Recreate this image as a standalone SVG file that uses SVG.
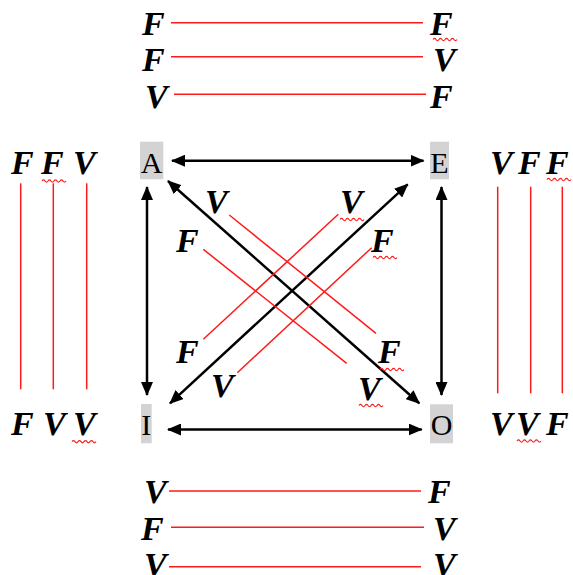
<svg xmlns="http://www.w3.org/2000/svg" xmlns:xlink="http://www.w3.org/1999/xlink" width="573" height="575" viewBox="0 0 573 575">
<style>
.tv{font-family:"Liberation Serif","Times New Roman",serif;font-size:34px;font-weight:bold;font-style:italic;fill:#000}
.nl{font-family:"Liberation Serif","Times New Roman",serif;font-size:30px;fill:#000;text-anchor:middle}
.nb{fill:#d3d3d3}
.rl{stroke:#ff1a1a;stroke-width:1.5;fill:none}
.ar{stroke:#000;stroke-width:2.5;fill:none;marker-start:url(#ah);marker-end:url(#ah)}
.sq{stroke:#ff2020;stroke-width:1.2;fill:none}
</style>
<defs>
<marker id="ah" viewBox="0 0 14 12" refX="13" refY="6" markerWidth="14" markerHeight="12" markerUnits="userSpaceOnUse" orient="auto-start-reverse">
<path d="M0,0 L14,6 L0,12 Z" fill="#000"/>
</marker>
<path id="sq" d="M0,0 q1.5,-2.2 3,0 t3,0 t3,0 t3,0 t3,0 t3,0 t3,0 t3,0" class="sq"/>
</defs>

<g id="connectors">
<line class="ar" x1="172" y1="160.7" x2="423.5" y2="160.7"/>
<line class="ar" x1="147" y1="187" x2="147" y2="395"/>
<line class="ar" x1="441.5" y1="187" x2="441.5" y2="395"/>
<line class="ar" x1="168" y1="429.5" x2="421.7" y2="429.5"/>
<line class="ar" x1="168" y1="181" x2="419.3" y2="403.3"/>
<line class="ar" x1="170" y1="403.3" x2="407.7" y2="184.3"/>
</g>

<g id="node-A"><rect class="nb" x="140" y="141.7" width="23.3" height="37.6"/><text class="nl" x="151.5" y="172.7">A</text></g>
<g id="node-E"><rect class="nb" x="430" y="141.7" width="19" height="37.6"/><text class="nl" x="439.5" y="172.7">E</text></g>
<g id="node-I"><rect class="nb" x="141" y="404" width="10.7" height="39.3"/><text class="nl" x="146.3" y="435">I</text></g>
<g id="node-O"><rect class="nb" x="430" y="404.3" width="23" height="39"/><text class="nl" x="441.5" y="435">O</text></g>

<g id="top-table">
<text class="tv" x="142" y="35">F</text><line class="rl" x1="171" y1="22.7" x2="423" y2="22.7"/><text class="tv" x="430" y="35">F</text><use xlink:href="#sq" href="#sq" transform="translate(433,39.5)"/>
<text class="tv" x="142" y="71">F</text><line class="rl" x1="171" y1="56.7" x2="423" y2="56.7"/><text class="tv" x="433" y="71">V</text>
<text class="tv" x="145" y="108">V</text><line class="rl" x1="174" y1="94.3" x2="426" y2="94.3"/><text class="tv" x="430" y="108">F</text>
</g>

<g id="bottom-table">
<text class="tv" x="144" y="503">V</text><line class="rl" x1="169" y1="491" x2="421" y2="491"/><text class="tv" x="428" y="503">F</text>
<text class="tv" x="141" y="540">F</text><line class="rl" x1="171" y1="527.3" x2="424" y2="527.3"/><text class="tv" x="433" y="540">V</text>
<text class="tv" x="144" y="576">V</text><line class="rl" x1="169" y1="566.7" x2="421" y2="566.7"/><text class="tv" x="433" y="576">V</text>
</g>

<g id="left-table">
<text class="tv" x="11" y="174">F</text><text class="tv" x="41" y="174">F</text><text class="tv" x="73" y="174">V</text>
<use xlink:href="#sq" href="#sq" transform="translate(42,181)"/>
<line class="rl" x1="20.7" y1="183.3" x2="20.7" y2="389.3"/>
<line class="rl" x1="53.3" y1="183.3" x2="53.3" y2="389.3"/>
<line class="rl" x1="86.7" y1="183.3" x2="86.7" y2="389.3"/>
<text class="tv" x="11" y="435">F</text><text class="tv" x="43" y="435">V</text><text class="tv" x="73" y="435">V</text>
<use xlink:href="#sq" href="#sq" transform="translate(72,441.7)"/>
</g>

<g id="right-table">
<text class="tv" x="490" y="174">V</text><text class="tv" x="518" y="174">F</text><text class="tv" x="546" y="174">F</text>
<use xlink:href="#sq" href="#sq" transform="translate(547,179.5)"/>
<line class="rl" x1="497.7" y1="186.7" x2="497.7" y2="393.3"/>
<line class="rl" x1="530.7" y1="186.7" x2="530.7" y2="393.3"/>
<line class="rl" x1="562.3" y1="186.7" x2="562.3" y2="393.3"/>
<text class="tv" x="490" y="435">V</text><text class="tv" x="516" y="435">V</text><text class="tv" x="546" y="435">F</text>
<use xlink:href="#sq" href="#sq" transform="translate(517,441)"/>
</g>

<g id="diagonal-table">
<line class="rl" x1="229.3" y1="215" x2="376" y2="333.3"/>
<line class="rl" x1="203.3" y1="249.3" x2="346.7" y2="363.3"/>
<line class="rl" x1="203.3" y1="339.3" x2="338.3" y2="214.3"/>
<line class="rl" x1="237.3" y1="372.7" x2="371.7" y2="247.7"/>
<text class="tv" x="205" y="213.3">V</text>
<text class="tv" x="176" y="251.7">F</text>
<text class="tv" x="340" y="213">V</text><use xlink:href="#sq" href="#sq" transform="translate(340,219.5)"/>
<text class="tv" x="371" y="251.7">F</text><use xlink:href="#sq" href="#sq" transform="translate(373,257.5)"/>
<text class="tv" x="176" y="363.3">F</text>
<text class="tv" x="211" y="396.7">V</text>
<text class="tv" x="378" y="363.3">F</text><use xlink:href="#sq" href="#sq" transform="translate(380,369.5)"/>
<text class="tv" x="358" y="400">V</text><use xlink:href="#sq" href="#sq" transform="translate(359,405.5)"/>
</g>
</svg>
